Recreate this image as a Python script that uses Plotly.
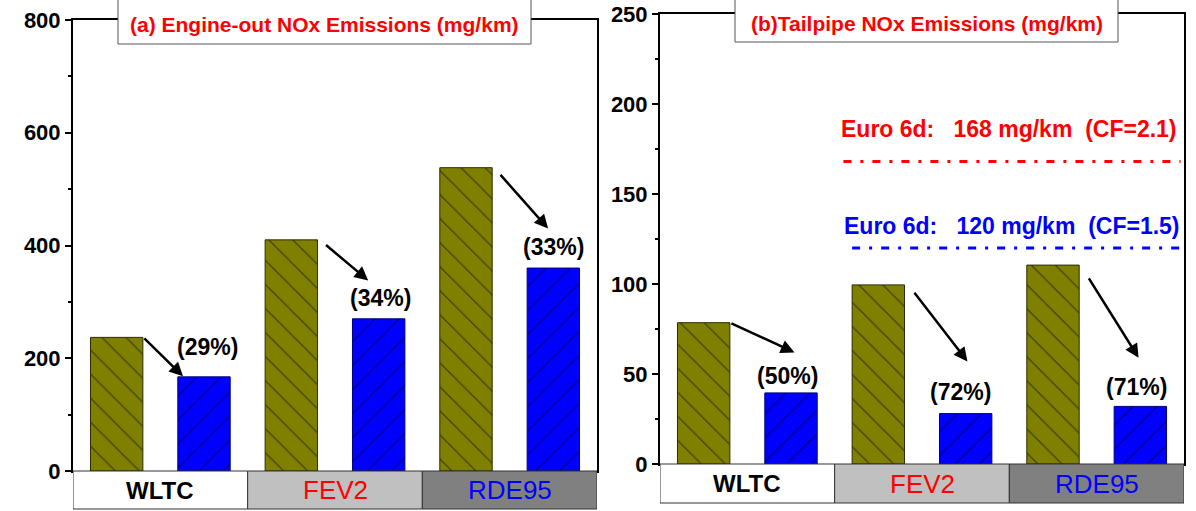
import plotly.graph_objects as go

# ---------------- data ----------------
categories = ["WLTC", "FEV2", "RDE95"]
engine_out_base = [237, 410, 538]
engine_out_new = [167, 270, 360]
engine_out_pct = ["(29%)", "(34%)", "(33%)"]
tailpipe_base = [78.5, 99.5, 110.5]
tailpipe_new = [39.5, 28, 32]
tailpipe_pct = ["(50%)", "(72%)", "(71%)"]
euro_limits = [168, 120]
euro_labels = ["Euro 6d:   168 mg/km  (CF=2.1)", "Euro 6d:   120 mg/km  (CF=1.5)"]

# annotation placement (data coords)
left_arrow_tail = [(0.40, 238), (1.44, 403), (2.44, 528)]
left_arrow_tip = [(0.63, 168), (1.69, 338), (2.72, 430)]
left_label_pos = [(0.77, 220), (1.76, 307), (2.75, 397)]
right_arrow_tail = [(0.40, 78.5), (1.45, 96), (2.45, 104)]
right_arrow_tip = [(0.77, 62), (1.76, 57), (2.74, 59)]
right_label_pos = [(0.73, 49), (1.72, 40), (2.73, 43)]

FONT = "Liberation Sans Narrow, Arial Narrow, Liberation Sans, Arial, sans-serif"
OLIVE = "#808000"
BLUE = "#0000ff"
box_fill = ["#ffffff", "#c0c0c0", "#808080"]
box_text_color = ["black", "red", "blue"]
box_text_bold = [True, False, False]

xpos_a = [i + 0.25 for i in range(3)]
xpos_b = [i + 0.75 for i in range(3)]

fig = go.Figure()

def add_bars(xa, ya, base, new):
    fig.add_trace(go.Bar(
        x=xpos_a, y=base, width=0.30, xaxis=xa, yaxis=ya,
        marker=dict(color=OLIVE, line=dict(color="#2b2b00", width=1),
                    pattern=dict(shape="\\", fgcolor="black", bgcolor=OLIVE,
                                 size=17, solidity=0.07, fillmode="overlay")),
        showlegend=False))
    fig.add_trace(go.Bar(
        x=xpos_b, y=new, width=0.30, xaxis=xa, yaxis=ya,
        marker=dict(color=BLUE, line=dict(color="#00007f", width=1),
                    pattern=dict(shape="/", fgcolor="black", bgcolor=BLUE,
                                 size=17, solidity=0.07, fillmode="overlay")),
        showlegend=False))

add_bars("x", "y", engine_out_base, engine_out_new)
add_bars("x2", "y2", tailpipe_base, tailpipe_new)

# Euro limit lines on the right panel
euro_colors = ["red", "blue"]
euro_x = [[1.05, 2.98], [1.10, 3.0]]
for lim, col, xs in zip(euro_limits, euro_colors, euro_x):
    fig.add_trace(go.Scatter(x=xs, y=[lim, lim], mode="lines", xaxis="x2", yaxis="y2",
                             line=dict(color=col, width=3, dash="8px,9px,3px,9px"),
                             showlegend=False, hoverinfo="skip"))

W, H = 1196, 511
dom_x1 = [73 / W, 597 / W]
dom_x2 = [660 / W, 1184 / W]
dom_y1 = [(H - 471) / H, (H - 20) / H]
dom_y2 = [(H - 464) / H, (H - 14) / H]

axis_common = dict(showline=True, linecolor="black", linewidth=2, mirror=True,
                   showgrid=False, zeroline=False, automargin=False)
xaxis_common = dict(axis_common, range=[0, 3], showticklabels=False, ticks="")
yaxis_common = dict(axis_common, ticks="outside", ticklen=6, tickwidth=2, tickcolor="black",
                    tickfont=dict(family=FONT, size=22, color="black", weight="bold"),
                    minor=dict(ticks="outside", ticklen=3, tickwidth=2, tickcolor="black"))

fig.update_layout(
    width=W, height=H, margin=dict(l=0, r=0, t=0, b=0),
    paper_bgcolor="white", plot_bgcolor="white", barmode="overlay",
    xaxis=dict(xaxis_common, domain=dom_x1, anchor="y"),
    yaxis=dict(yaxis_common, domain=dom_y1, range=[0, 800], dtick=200,
               minor=dict(yaxis_common["minor"], dtick=100), anchor="x"),
    xaxis2=dict(xaxis_common, domain=dom_x2, anchor="y2"),
    yaxis2=dict(yaxis_common, domain=dom_y2, range=[0, 250], dtick=50,
                minor=dict(yaxis_common["minor"], dtick=25), anchor="x2"),
)

shapes = []
annotations = []

# category boxes under each panel
for xa, ya, hfrac in (("x", "y", 38 / 451), ("x2", "y2", 39 / 450)):
    for i, cat in enumerate(categories):
        shapes.append(dict(type="rect", xref=xa, yref=ya + " domain",
                           x0=i, x1=i + 1, y0=-hfrac, y1=0,
                           fillcolor=box_fill[i], line=dict(color="#333333", width=1),
                           layer="above"))
        annotations.append(dict(xref=xa, yref=ya + " domain", x=i + 0.5, y=-hfrac / 2,
                                text=cat, showarrow=False, yanchor="middle",
                                font=dict(family=FONT, size=24 if box_text_bold[i] else 26,
                                          color=box_text_color[i],
                                          weight="bold" if box_text_bold[i] else "normal")))

# title boxes
titles = [("(a) Engine-out NOx Emissions (mg/km)", 118, 531, 44),
          ("(b)Tailpipe NOx Emissions (mg/km)", 735, 1118, 42)]
for txt, x0, x1, ybot in titles:
    shapes.append(dict(type="rect", xref="paper", yref="paper",
                       x0=x0 / W, x1=x1 / W, y0=(H - ybot) / H, y1=1.1,
                       fillcolor="white", line=dict(color="#555555", width=1), layer="above"))
    annotations.append(dict(xref="paper", yref="paper", x=(x0 + x1) / 2 / W,
                            y=(H - ybot / 2 - 2) / H, text=txt, showarrow=False,
                            xanchor="center", yanchor="middle",
                            font=dict(family=FONT, size=21, color="red", weight="bold")))

# arrows and percentage labels
for xa, ya, tails, tips, labels, pos in (
        ("x", "y", left_arrow_tail, left_arrow_tip, engine_out_pct, left_label_pos),
        ("x2", "y2", right_arrow_tail, right_arrow_tip, tailpipe_pct, right_label_pos)):
    for (tx, ty), (hx, hy), lab, (lx, ly) in zip(tails, tips, labels, pos):
        annotations.append(dict(xref=xa, yref=ya, axref=xa, ayref=ya,
                                x=hx, y=hy, ax=tx, ay=ty, text="", showarrow=True,
                                arrowhead=2, arrowsize=1.1, arrowwidth=2.5,
                                arrowcolor="black"))
        annotations.append(dict(xref=xa, yref=ya, x=lx, y=ly, text=lab, showarrow=False,
                                font=dict(family=FONT, size=23, color="black", weight="bold")))

# Euro limit labels
euro_label_pos = [(2.0, 186), (2.015, 132)]
for lab, col, (lx, ly) in zip(euro_labels, euro_colors, euro_label_pos):
    annotations.append(dict(xref="x2", yref="y2", x=lx, y=ly,
                            text=lab.replace(" ", "\u00a0"), showarrow=False,
                            font=dict(family=FONT, size=23, color=col, weight="bold")))

fig.update_layout(shapes=shapes, annotations=annotations)
fig.write_html("out.html", config={"displayModeBar": False},
               post_script="document.body.style.margin='0';")
